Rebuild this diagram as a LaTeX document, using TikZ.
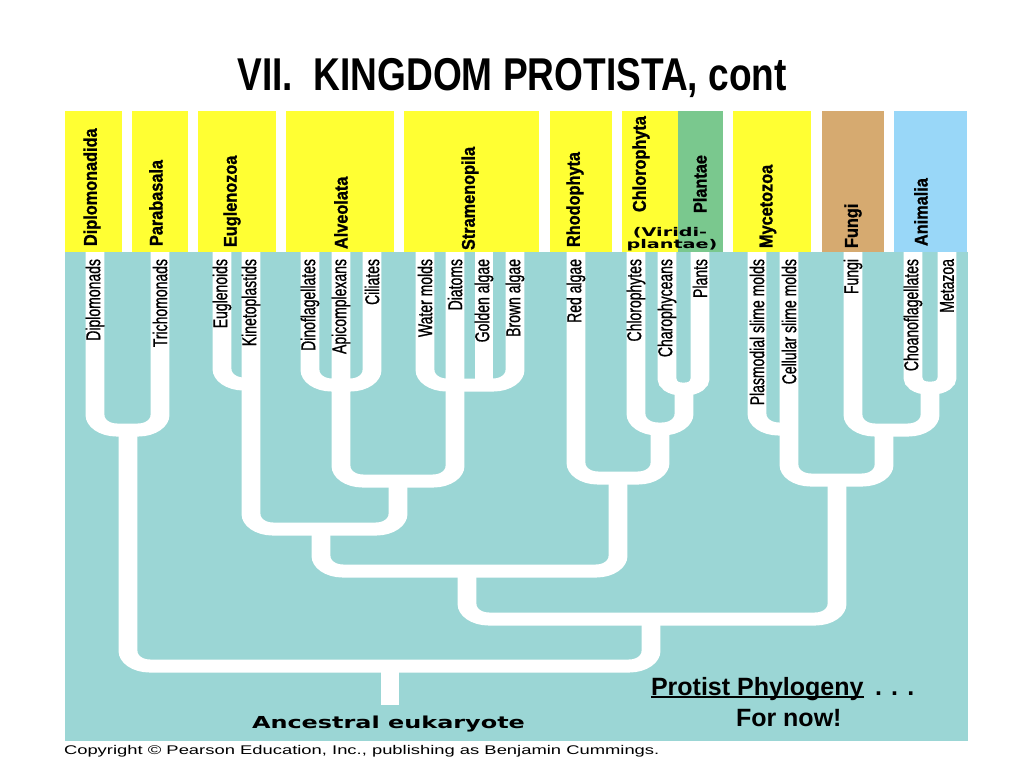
\documentclass[tikz,border=0pt]{standalone}
\usepackage{fontspec}
\setmainfont{Liberation Sans}
\newfontfamily\leaffont{Liberation Sans}[FakeStretch=0.7, FakeBold=0.8]
\newfontfamily\headfont{Liberation Sans}[FakeStretch=0.88, FakeBold=1.2]
\newfontfamily\titlefont{Liberation Sans}[FakeStretch=0.806]
\newfontfamily\widefont{DejaVu Sans}[FakeStretch=1.45]
\newfontfamily\virfont{DejaVu Sans}[FakeStretch=1.6]
\newfontfamily\copyfont{Liberation Sans}[FakeStretch=1.46]
\definecolor{panelteal}{RGB}{155,214,213}
\definecolor{hdyellow}{RGB}{255,255,51}
\definecolor{hdgreen}{RGB}{122,200,142}
\definecolor{hdtan}{RGB}{214,170,112}
\definecolor{hdblue}{RGB}{153,215,248}
\begin{document}
\begin{tikzpicture}[x=1pt, y=-1pt,
  every node/.style={inner sep=0pt, outer sep=0pt},
  leaf/.style={rotate=90, anchor=east, font=\leaffont\fontsize{20}{20}\selectfont},
  head/.style={rotate=90, anchor=west, font=\headfont\bfseries\fontsize{18.5}{18.5}\selectfont},
  vir/.style={anchor=base, font=\virfont\bfseries\fontsize{12}{12}\selectfont},
  branch/.style={draw=white, line width=13pt, rounded corners=15pt},
  smallbranch/.style={branch, rounded corners=10pt}]
\useasboundingbox (0,0) rectangle (1024,768);
\fill[white] (0,0) rectangle (1024,768);

% title
\node[anchor=base, font=\titlefont\bfseries\fontsize{46}{46}\selectfont] (title) at (512,90) {VII.\ \ KINGDOM PROTISTA, cont};

% header boxes
\fill[hdyellow] (65,111) rectangle (122,252);
\fill[hdyellow] (132,111) rectangle (188,252);
\fill[hdyellow] (198,111) rectangle (276,252);
\fill[hdyellow] (286,111) rectangle (394,252);
\fill[hdyellow] (404,111) rectangle (539,252);
\fill[hdyellow] (550,111) rectangle (612,252);
\fill[hdyellow] (622,111) rectangle (678,252);
\fill[hdgreen]  (678,111) rectangle (723,252);
\fill[hdyellow] (733,111) rectangle (811,252);
\fill[hdtan]    (822,111) rectangle (884,252);
\fill[hdblue]   (894,111) rectangle (967,252);

% panel
\fill[panelteal] (65,252) rectangle (968,741);

% tree
\begin{scope}[transform canvas={xscale=1.45}, x=0.689655pt]
  \coordinate (tDip) at (95,252);
  \coordinate (tTri) at (160,252);
  \coordinate (tEug) at (222,252);
  \coordinate (tKin) at (251,252);
  \coordinate (tDin) at (310,252);
  \coordinate (tApi) at (341,252);
  \coordinate (tCil) at (372,252);
  \coordinate (tWat) at (425,252);
  \coordinate (tDia) at (455,252);
  \coordinate (tGol) at (484,252);
  \coordinate (tBro) at (515,252);
  \coordinate (tRed) at (576,252);
  \coordinate (tChl) at (636,252);
  \coordinate (tCha) at (667,252);
  \coordinate (tPla) at (700,252);
  \coordinate (tPsm) at (757,252);
  \coordinate (tCsm) at (789,252);
  \coordinate (tFun) at (853,252);
  \coordinate (tCho) at (913,252);
  \coordinate (tMet) at (947,252);
  \coordinate (jDip) at (128,430);
  \coordinate (jEug) at (251,384);
  \coordinate (jAlv) at (341,385);
  \coordinate (jStr) at (455,385);
  \coordinate (jCha) at (684,389);
  \coordinate (jVir) at (660,429);
  \coordinate (jRv) at (618,478);
  \coordinate (jMyc) at (789,429);
  \coordinate (jAni) at (930,388);
  \coordinate (jFa) at (884,430);
  \coordinate (jAo) at (837,480);
  \coordinate (jAs) at (398,481);
  \coordinate (jEk) at (321,529);
  \coordinate (jEr) at (467,571);
  \coordinate (jEo) at (651,619);
  \coordinate (jRoot) at (390,666);
  \coordinate (base) at (390,705);

  \draw[branch] (tDip) |- (jDip -| tTri) -- (tTri);
  \draw[branch] (tEug) |- (jEug);
  \draw[branch] (tDin) |- (jAlv -| tCil) -- (tCil);
  \draw[branch] (tWat) |- (jStr -| tBro) -- (tBro);
  \draw[branch] (tGol) -- (jStr -| tGol);
  \draw[smallbranch] (tCha) |- (jCha -| tPla) -- (tPla);
  \draw[branch] (tChl) |- (jVir -| jCha) -- (jCha);
  \draw[branch] (tRed) |- (jRv -| jVir) -- (jVir);
  \draw[branch] (tPsm) |- (jMyc);
  \draw[smallbranch] (tCho) |- (jAni -| tMet) -- (tMet);
  \draw[branch] (tFun) |- (jFa -| jAni) -- (jAni);
  \draw[branch] (tCsm) |- (jAo -| jFa) -- (jFa);
  \draw[branch] (tApi) |- (jAs -| tDia) -- (tDia);
  \draw[branch] (tKin) |- (jEk -| jAs) -- (jAs);
  \draw[branch] (jEk) |- (jEr -| jRv) -- (jRv);
  \draw[branch] (jEr) |- (jEo -| jAo) -- (jAo);
  \draw[branch] (jDip) |- (jRoot -| jEo) -- (jEo);
  \draw[branch] (jRoot) -- (base);
\end{scope}

% header labels
\node[head] (hDip) at (92,246) {Diplomonadida};
\node[head] (hPar) at (156,246) {Parabasala};
\node[head] (hEug) at (232,247) {Euglenozoa};
\node[head] (hAlv) at (341,249) {Alveolata};
\node[head] (hStr) at (470,250) {Stramenopila};
\node[head] (hRho) at (575,247) {Rhodophyta};
\node[head] (hChl) at (641,212) {Chlorophyta};
\node[head] (hPla) at (700,213) {Plantae};
\node[head] (hMyc) at (768,248) {Mycetozoa};
\node[head] (hFun) at (853,248) {Fungi};
\node[head] (hAni) at (921,246) {Animalia};
\node[vir] (vir1) at (670,236) {(Viridi-};
\node[vir] (vir2) at (672,248) {plantae)};

% leaf labels
\node[leaf] (lDip) at (95,259) {Diplomonads};
\node[leaf] (lTri) at (160,259) {Trichomonads};
\node[leaf] (lEug) at (222,259) {Euglenoids};
\node[leaf] (lKin) at (251,259) {Kinetoplastids};
\node[leaf] (lDin) at (310,259) {Dinoflagellates};
\node[leaf] (lApi) at (341,259) {Apicomplexans};
\node[leaf] (lCil) at (372,259) {Ciliates};
\node[leaf] (lWat) at (425,259) {Water molds};
\node[leaf] (lDia) at (455,259) {Diatoms};
\node[leaf] (lGol) at (484,259) {Golden algae};
\node[leaf] (lBro) at (515,259) {Brown algae};
\node[leaf] (lRed) at (576,259) {Red algae};
\node[leaf] (lChl) at (636,259) {Chlorophytes};
\node[leaf] (lCha) at (667,259) {Charophyceans};
\node[leaf] (lPla) at (700,259) {Plants};
\node[leaf] (lPsm) at (757,259) {Plasmodial slime molds};
\node[leaf] (lCsm) at (789,259) {Cellular slime molds};
\node[leaf] (lFun) at (853,259) {Fungi};
\node[leaf] (lCho) at (913,259) {Choanoflagellates};
\node[leaf] (lMet) at (947,259) {Metazoa};

% bottom texts
\node[anchor=base west, font=\widefont\bfseries\fontsize{16.5}{16.5}\selectfont] (anc) at (252,728) {Ancestral eukaryote};
\node[anchor=base west, font=\bfseries\fontsize{25}{25}\selectfont] (pp) at (651,695) {Protist Phylogeny};
\node[anchor=base west, font=\bfseries\fontsize{25}{25}\selectfont] (dots) at (875,695) {. . .};
\draw[line width=2pt] ([yshift=-2pt]pp.base west) -- ([yshift=-2pt]pp.base east);
\node[anchor=base west, font=\bfseries\fontsize{25}{25}\selectfont] (fn) at (736,726) {For now!};
\node[anchor=base west, font=\copyfont\fontsize{12.6}{12.6}\selectfont] (copy) at (64,754) {Copyright \textcopyright{} Pearson Education, Inc., publishing as Benjamin Cummings.};
\end{tikzpicture}
\end{document}
